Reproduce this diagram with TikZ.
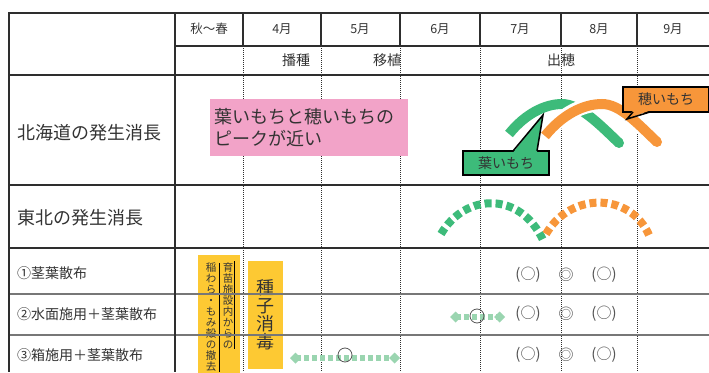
\documentclass[tikz,border=0pt]{standalone}
\usepackage{fontspec}
\setmainfont{Noto Sans CJK JP}
\usetikzlibrary{arrows.meta}
\definecolor{txt}{HTML}{333333}
\definecolor{gridc}{HTML}{2E2E2E}
\definecolor{grayl}{HTML}{777777}
\definecolor{leafg}{HTML}{3DBB7A}
\definecolor{orng}{HTML}{F7963A}
\definecolor{pinkc}{HTML}{F2A3C8}
\definecolor{yell}{HTML}{FDC933}
\definecolor{lgreen}{HTML}{9AD5B0}
\definecolor{markc}{HTML}{555555}
\begin{document}
\begin{tikzpicture}[x=1pt,y=-1pt,
  gridline/.style={draw=gridc,line width=2pt},
  grayline/.style={draw=grayl,line width=1.4pt},
  dotline/.style={draw=gridc,line width=0.8pt,dash pattern=on 1pt off 1pt},
  hdr/.style={text=txt,font=\fontsize{12.5}{14}\selectfont,inner sep=0pt},
  rowlab/.style={text=txt,anchor=west,inner sep=0pt},
  effmark/.style={text=markc,font=\fontsize{15}{16}\selectfont,inner sep=0pt},
  callbox/.style={draw=black,line width=1.5pt,text=txt,font=\fontsize{14}{16}\selectfont,inner sep=0pt},
  yellbox/.style={fill=yell,inner sep=0pt},
  vtext/.style={text=txt,align=center,inner sep=0pt},
  leafcurve/.style={draw=leafg,line width=10pt},
  neckcurve/.style={draw=orng,line width=10pt},
  spray/.style={draw=lgreen,line width=6pt,dash pattern=on 5pt off 3pt,
     {Diamond[length=11pt,width=11pt]}-{Diamond[length=11pt,width=11pt]}},
  ring/.style={draw=markc,line width=0.8pt,circle,minimum size=14pt,inner sep=0pt}
]
\useasboundingbox (0,0) rectangle (709,372);
\clip (0,0) rectangle (709,372);

% dotted column lines
\foreach \xx in {243,321,400,480,561,637}
  \draw[dotline] (\xx,46) -- (\xx,372);

% pink box
\node[fill=pinkc,anchor=north west,minimum width=198pt,minimum height=57pt,
  text width=190pt,inner sep=4pt,align=left,text=txt,
  font=\fontsize{18}{22}\selectfont] (peak) at (210,99)
  {葉いもちと穂いもちの\\ピークが近い};

% Hokkaido curves
\draw[leafcurve] (509,134) .. controls (525,114) and (545,104) .. (562,104)
   .. controls (580,104) and (600,125) .. (619,143);
\fill[leafg] (619,143) circle (5pt);
\draw[white,line width=15pt] (548,132) .. controls (564,113) and (583,104) .. (602,104)
   .. controls (620,104) and (638,124) .. (657,142);
\draw[neckcurve] (545,136) .. controls (562,115) and (583,104) .. (602,104)
   .. controls (620,104) and (638,124) .. (657,142);
\fill[orng] (657,142) circle (5pt);

% callouts
\node[callbox,fill=leafg,minimum width=86pt,minimum height=24pt] (leafcall) at (506,163) {葉いもち};
\coordinate (leaftip) at (543,115);
\fill[leafg] (513,152.5) -- (leaftip) -- (537,152.5) -- cycle;
\draw[black,line width=1.5pt,line join=miter] (513,151) -- (leaftip) -- (537,151);

\node[callbox,fill=orng,minimum width=86pt,minimum height=25pt] (neckcall) at (666,99.5) {穂いもち};
\coordinate (necktip) at (627,119);
\fill[orng] (633,110.5) -- (necktip) -- (650,110.5) -- cycle;
\draw[black,line width=1.5pt,line join=miter] (633,112) -- (necktip) -- (650,112);

% Tohoku dashed curves
\draw[leafg,line width=8pt,dash pattern=on 7pt off 4pt] (441,234) .. controls (465,193) and (520,191) .. (543,240);
\draw[orng,line width=8pt,dash pattern=on 7pt off 4pt] (546,234) .. controls (570,192) and (630,192) .. (649,235);

% yellow boxes
\node[yellbox,anchor=north west,minimum width=42pt,minimum height=120pt] (strawbox) at (198,255) {};
\node[vtext,anchor=north,font=\fontsize{10.5}{11}\selectfont] (strawtxt) at (228,262)
  {育\\苗\\施\\設\\内\\か\\ら\\の};
\node[vtext,anchor=north,font=\fontsize{10.5}{11}\selectfont] (strawtxt2) at (211,263)
  {稲\\わ\\ら\\・\\も\\み\\殻\\の\\撤\\去};
\draw[black,line width=0.8pt] (234.5,261) -- (234.5,349);
\draw[black,line width=0.8pt] (219,263) -- (219,372);

\node[yellbox,anchor=north west,minimum width=35pt,minimum height=108pt] (seedbox) at (248,261) {};
\node[vtext,font=\fontsize{18}{18}\selectfont] (seedtxt) at (seedbox.center) {種\\子\\消\\毒};

% spray arrows
\coordinate (s2a) at (450,317);
\coordinate (s2b) at (505,317);
\draw[spray] (s2a) -- (s2b);
\node[ring] (r2) at (477,316) {};
\coordinate (s3a) at (290,358);
\coordinate (s3b) at (400,358);
\draw[spray] (s3a) -- (s3b);
\node[ring] (r3) at (345,355) {};

% marks
\foreach \yy in {275,314,355}{
  \node[effmark] at (528,\yy) {(○)};
  \node[effmark] at (566,\yy) {◎};
  \node[effmark] at (604,\yy) {(○)};
}

% grid
\draw[gridline] (9,13) -- (709,13);
\draw[gridline] (175,46) -- (709,46);
\draw[gridline] (9,75) -- (709,75);
\draw[gridline] (9,185) -- (709,185);
\draw[gridline] (9,248) -- (709,248);
\draw[grayline] (9,294) -- (709,294);
\draw[grayline] (9,335) -- (709,335);
\draw[gridline] (9,12) -- (9,372);
\draw[gridline] (175,12) -- (175,372);
\foreach \xx in {243,321,400,480,561,637}
  \draw[gridline] (\xx,13) -- (\xx,46);

% header text
\node[hdr] (h0) at (209,29) {秋〜春};
\node[hdr] (h4) at (282,29) {4月};
\node[hdr] (h5) at (360,29) {5月};
\node[hdr] (h6) at (440,29) {6月};
\node[hdr] (h7) at (520,29) {7月};
\node[hdr] (h8) at (599,29) {8月};
\node[hdr] (h9) at (673,29) {9月};
\node[hdr,font=\fontsize{14}{16}\selectfont] (sow) at (296,60) {播種};
\node[hdr,font=\fontsize{14}{16}\selectfont] (trans) at (387,60) {移植};
\node[hdr,font=\fontsize{14}{16}\selectfont] (head) at (561,60) {出穂};

% row labels
\node[rowlab,font=\fontsize{18}{20}\selectfont] (hk) at (17,133) {北海道の発生消長};
\node[rowlab,font=\fontsize{18}{20}\selectfont] (th) at (17,218) {東北の発生消長};
\node[rowlab,font=\fontsize{14}{16}\selectfont] (m1) at (17,273) {①茎葉散布};
\node[rowlab,font=\fontsize{14}{16}\selectfont] (m2) at (17,314) {②水面施用＋茎葉散布};
\node[rowlab,font=\fontsize{14}{16}\selectfont] (m3) at (17,355) {③箱施用＋茎葉散布};
\end{tikzpicture}
\end{document}
